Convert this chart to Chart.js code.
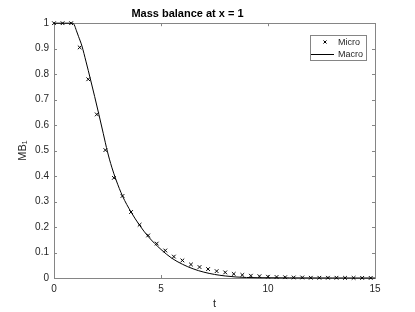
<!DOCTYPE html>
<html>
<head>
<meta charset="utf-8">
<script src="https://cdn.jsdelivr.net/npm/chart.js@4"></script>
<style>
  html, body { margin: 0; padding: 0; background: #fff; }
  #wrap { width: 415px; height: 312px; }
</style>
</head>
<body>
<div id="wrap"><canvas id="mbChart" width="415" height="312"></canvas></div>
<script>
// Mass balance at x = 1, micro vs macro model

const microT = [0, 0.4, 0.8, 1.2, 1.6, 2.0, 2.4, 2.8, 3.2, 3.6, 4.0, 4.4, 4.8, 5.2, 5.6, 6.0, 6.4, 6.8, 7.2, 7.6,
  8.0, 8.4, 8.8, 9.2, 9.6, 10.0, 10.4, 10.8, 11.2, 11.6, 12.0, 12.4, 12.8, 13.2, 13.6, 14.0, 14.4, 14.8];
const microMB = [1, 1, 1, 0.905, 0.78, 0.642, 0.502, 0.393, 0.322, 0.259, 0.209, 0.167, 0.135, 0.108, 0.084, 0.069, 0.053, 0.043, 0.035, 0.027,
  0.022, 0.016, 0.012, 0.009, 0.007, 0.005, 0.004, 0.003, 0.002, 0.002, 0.001, 0.001, 0.001, 0.001, 0.0005, 0.0005, 0.0003, 0.0003];

const macroT = [0, 0.5, 0.88, 0.95, 1.05, 1.15, 1.3, 1.5, 1.7, 1.9, 2.1, 2.3, 2.5, 2.7, 2.9, 3.2, 3.6, 4.0, 4.4,
  5.0, 5.5, 6.0, 6.5, 7.0, 7.5, 8.0, 8.5, 9.0, 10, 11, 12, 13, 14, 15];
const macroMB = [1, 1, 1, 0.993, 0.97, 0.947, 0.912, 0.848, 0.781, 0.712, 0.641, 0.568, 0.495, 0.435, 0.385, 0.322, 0.259, 0.207, 0.163,
  0.112, 0.078, 0.054, 0.036, 0.023, 0.014, 0.008, 0.004, 0.002, 0.001, 0.0005, 0.0002, 0.0001, 0, 0];

const xTicks = [0, 5, 10, 15];
const yTicks = [0, 0.1, 0.2, 0.3, 0.4, 0.5, 0.6, 0.7, 0.8, 0.9, 1];

const FONT = 'Liberation Sans, Arial, Helvetica, sans-serif';
const TEXT = '#262626';
const AXIS = '#858585';

// box around the axes with inward ticks on all four sides
const boxPlugin = {
  id: 'box',
  beforeDatasetsDraw(chart) {
    const { ctx, chartArea: a, scales } = chart;
    ctx.save();
    ctx.strokeStyle = AXIS;
    ctx.lineWidth = 1;
    ctx.strokeRect(Math.round(a.left) + 0.5, Math.round(a.top) + 0.5,
      Math.round(a.right - a.left), Math.round(a.bottom - a.top));
    ctx.beginPath();
    xTicks.forEach(v => {
      const x = Math.round(scales.x.getPixelForValue(v)) + 0.5;
      ctx.moveTo(x, a.bottom); ctx.lineTo(x, a.bottom - 3);
      ctx.moveTo(x, a.top); ctx.lineTo(x, a.top + 3);
    });
    yTicks.forEach(v => {
      const y = Math.round(scales.y.getPixelForValue(v)) + 0.5;
      ctx.moveTo(a.left, y); ctx.lineTo(a.left + 3, y);
      ctx.moveTo(a.right, y); ctx.lineTo(a.right - 3, y);
    });
    ctx.stroke();
    ctx.restore();
  }
};

// MATLAB-style legend box in the top right corner
const legendPlugin = {
  id: 'boxLegend',
  afterDraw(chart) {
    const { ctx } = chart;
    const ds = chart.data.datasets;
    const left = 310, top = 35, w = 56, h = 25;
    ctx.save();
    ctx.fillStyle = '#fff';
    ctx.fillRect(left, top, w, h);
    ctx.strokeStyle = AXIS;
    ctx.lineWidth = 1;
    ctx.strokeRect(left + 0.5, top + 0.5, w, h);
    ctx.font = '9px ' + FONT;
    ctx.textBaseline = 'middle';
    ds.forEach((d, i) => {
      const y = top + 7 + i * 12;
      ctx.strokeStyle = d.borderColor;
      if (d.showLine === false) {
        Chart.helpers.drawPoint(ctx, { pointStyle: d.pointStyle, radius: 2.2, borderWidth: 1 }, 325, y);
      } else {
        ctx.lineWidth = d.borderWidth;
        ctx.beginPath();
        ctx.moveTo(311, y + 0.5); ctx.lineTo(334, y + 0.5);
        ctx.stroke();
      }
      ctx.fillStyle = TEXT;
      ctx.fillText(d.label, 338, y + 0.5);
    });
    ctx.restore();
  }
};

new Chart(document.getElementById('mbChart').getContext('2d'), {
  type: 'scatter',
  data: {
    datasets: [
      {
        label: 'Micro',
        data: microT.map((t, i) => ({ x: t, y: microMB[i] })),
        showLine: false,
        pointStyle: 'crossRot',
        pointRadius: 2.6,
        pointHoverRadius: 2.6,
        borderColor: '#000',
        backgroundColor: '#000',
        pointBorderWidth: 1,
        clip: false
      },
      {
        label: 'Macro',
        data: macroT.map((t, i) => ({ x: t, y: macroMB[i] })),
        showLine: true,
        cubicInterpolationMode: 'monotone',
        pointRadius: 0,
        borderColor: '#000',
        borderWidth: 1,
        clip: false
      }
    ]
  },
  options: {
    responsive: false,
    animation: false,
    layout: { padding: { left: 0, right: 40, top: 0, bottom: 0 } },
    plugins: {
      legend: { display: false },
      tooltip: { enabled: false },
      title: {
        display: true,
        text: 'Mass balance at x = 1',
        color: '#000',
        font: { family: FONT, size: 11, weight: 'bold' },
        padding: { top: 7, bottom: 3 }
      }
    },
    scales: {
      x: {
        type: 'linear',
        min: 0, max: 15,
        afterFit: s => { s.height = 34; },
        afterBuildTicks: s => { s.ticks = xTicks.map(v => ({ value: v })); },
        grid: { display: false, drawTicks: false },
        border: { display: false },
        ticks: { color: TEXT, padding: 5, font: { family: FONT, size: 10 }, callback: v => String(v) },
        title: { display: true, text: 't', color: TEXT, font: { family: FONT, size: 11 }, padding: { top: 0, bottom: 1 } }
      },
      y: {
        type: 'linear',
        min: 0, max: 1,
        afterFit: s => { s.width = 54; },
        afterBuildTicks: s => { s.ticks = yTicks.map(v => ({ value: v })); },
        grid: { display: false, drawTicks: false },
        border: { display: false },
        ticks: { color: TEXT, padding: 5, font: { family: FONT, size: 10 }, callback: v => String(+v.toFixed(1)) },
        title: { display: true, text: 'MB₁', color: TEXT, font: { family: FONT, size: 11 }, padding: { top: 16, bottom: 0 } }
      }
    }
  },
  plugins: [boxPlugin, legendPlugin]
});
</script>
</body>
</html>
